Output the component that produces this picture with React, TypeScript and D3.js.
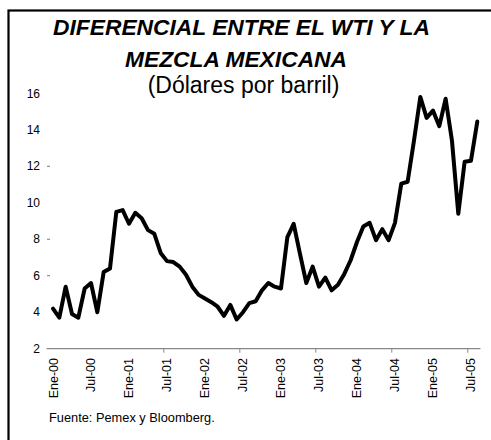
import React from 'react';
import * as d3 from 'd3';

const years = ['00', '01', '02', '03', '04', '05'];
const values: number[] = [
  4.2, 3.7, 5.4, 3.9, 3.7, 5.3, 5.6, 4.0, 6.2, 6.4, 9.5, 9.6,
  8.85, 9.45, 9.15, 8.5, 8.3, 7.25, 6.8, 6.75, 6.5, 6.05, 5.4, 4.95,
  4.75, 4.55, 4.3, 3.8, 4.4, 3.6, 4.0, 4.5, 4.6, 5.2, 5.6, 5.4,
  5.3, 8.1, 8.85, 7.2, 5.6, 6.5, 5.4, 5.9, 5.2, 5.5, 6.1, 6.85,
  7.85, 8.7, 8.9, 7.95, 8.55, 7.95, 8.9, 11.05, 11.15, 13.4, 15.8, 14.65,
  15.05, 14.2, 15.7, 13.4, 9.4, 12.25, 12.3, 14.45,
];
const yTicks = [2, 4, 6, 8, 10, 12, 14, 16];
const yDashes = [6, 8, 12];
const xLabels = years.flatMap(y => [`Ene-${y}`, `Jul-${y}`]);

const W = 491;
const H = 440;

const App: React.FC = () => {
  const x = d3.scaleLinear().domain([0, values.length - 1]).range([53, 477.3]);
  const y = d3.scaleLinear().domain([2, 16]).range([348.7, 93.3]);
  const line = d3
    .line<number>()
    .x((_, i) => x(i))
    .y(d => y(d));

  const font = '"Liberation Sans", Arial, sans-serif';
  const julIdx = xLabels.map((_, i) => i * 6).filter(i => i % 12 === 6 && i > 6);

  return (
    <svg
      width={W}
      height={H}
      style={{ position: 'absolute', left: 0, top: 0, display: 'block', background: '#fff' }}
      fontFamily={font}
    >
      <rect x={8.5} y={10.5} width={520} height={500} fill="none" stroke="#000" strokeWidth={2.2} />

      <g textAnchor="middle" fontWeight="bold" fontStyle="italic" fontSize={22.8}>
        <text x={241.5} y={35}>DIFERENCIAL ENTRE EL WTI Y LA</text>
        <text x={236} y={67}>MEZCLA MEXICANA</text>
      </g>
      <text x={243.5} y={93} textAnchor="middle" fontSize={23}>(Dólares por barril)</text>

      <g fontSize={12} textAnchor="end">
        {yTicks.map(t => (
          <text key={t} x={40} y={y(t)} dy="0.35em">{t}</text>
        ))}
        {yDashes.map(t => (
          <line key={t} x1={47} x2={50} y1={y(t)} y2={y(t)} stroke="#777" strokeWidth={1} />
        ))}
      </g>

      <line x1={x(-1)} x2={x(67.5)} y1={y(2)} y2={y(2)} stroke="#888" strokeWidth={1.3} />
      {julIdx.map(i => (
        <line key={i} x1={x(i - 0.5)} x2={x(i - 0.5)} y1={y(2)} y2={y(2) + 4} stroke="#888" strokeWidth={1} />
      ))}

      <g fontSize={12.5} textAnchor="end">
        {xLabels.map((l, k) => {
          const px = x(k * 6);
          return (
            <text key={l} transform={`translate(${px + 4.5},358) rotate(-90)`}>{l}</text>
          );
        })}
      </g>

      <path d={line(values) || ''} fill="none" stroke="#000" strokeWidth={4} strokeLinejoin="round" strokeLinecap="round" />

      <text x={49} y={422} fontSize={12.8}>Fuente: Pemex y Bloomberg.</text>
    </svg>
  );
};

export default App;
